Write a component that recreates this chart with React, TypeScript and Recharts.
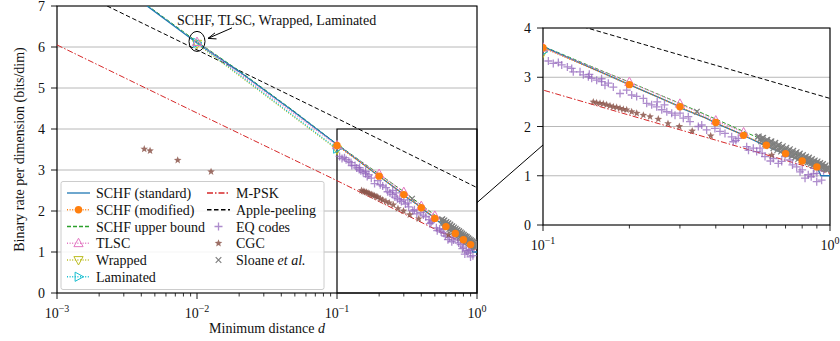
import React from 'react';
import {
  ComposedChart,
  Line,
  Scatter,
  XAxis,
  YAxis,
  CartesianGrid,
  ReferenceArea,
  ReferenceDot,
} from 'recharts';

type Pt = [number, number];

// ticks
const xMajorTicks = [0.001, 0.01, 0.1, 1];
const xMajorExp = ['−3', '−2', '−1', '0'];
const xMinorTicks = [
  0.002, 0.003, 0.004, 0.005, 0.006, 0.007, 0.008, 0.009,
  0.02, 0.03, 0.04, 0.05, 0.06, 0.07, 0.08, 0.09,
  0.2, 0.3, 0.4, 0.5, 0.6, 0.7, 0.8, 0.9,
];
const insetMajorTicks = [0.1, 1];
const insetMinorTicks = [0.2, 0.3, 0.4, 0.5, 0.6, 0.7, 0.8, 0.9];
const yTicksMain = [0, 1, 2, 3, 4, 5, 6, 7];
const yTicksInset = [0, 1, 2, 3, 4];

// series (x = minimum distance d, y = bits/dim)
const schfStandard: Pt[] = [
  [0.0044, 7.0], [0.01, 6.1], [0.02, 5.4], [0.05, 4.4], [0.1, 3.62], [0.2, 2.85],
  [0.29, 2.44], [0.3, 2.38], [0.37, 2.17], [0.4, 2.07], [0.48, 1.87], [0.5, 1.82],
  [0.6, 1.6], [0.7, 1.44], [0.8, 1.3], [0.9, 1.18], [0.93, 1.0], [1.0, 1.0],
];
const schfModified: Pt[] = [
  [0.1, 3.6], [0.2, 2.85], [0.3, 2.4], [0.4, 2.08], [0.5, 1.82],
  [0.6, 1.62], [0.7, 1.45], [0.8, 1.3], [0.9, 1.18],
];
const schfUpper: Pt[] = [
  [0.0044, 7.02], [0.01, 6.13], [0.02, 5.42], [0.05, 4.42], [0.1, 3.63], [0.15, 3.2],
  [0.2, 2.9], [0.3, 2.47], [0.4, 2.15], [0.5, 1.9], [0.6, 1.7], [0.7, 1.53],
  [0.8, 1.38], [0.9, 1.25], [1.0, 1.13],
];
const tlsc: Pt[] = [[0.01, 6.12], [0.1, 3.6], [0.2, 2.9], [0.3, 2.46], [0.4, 2.12], [0.5, 1.88]];
const wrapped: Pt[] = [[0.01, 6.08], [0.1, 3.5]];
const laminated: Pt[] = [[0.01, 6.1], [0.1, 3.52]];
const mpsk: Pt[] = [[0.001, 6.05], [0.01, 4.39], [0.1, 2.74], [0.2, 2.23], [0.5, 1.56], [1.0, 1.05]];
const applePeeling: Pt[] = [[0.00228, 7.0], [0.01, 5.93], [0.1, 4.26], [1.0, 2.57]];
const eqCodes: Pt[] = [
  [0.1044, 3.33], [0.1086, 3.28], [0.1131, 3.3], [0.1162, 3.25], [0.1216, 3.21], [0.1259, 3.18],
  [0.1275, 3.11], [0.1346, 3.11], [0.1382, 3.05], [0.1439, 3.01], [0.145, 3.06], [0.1478, 2.98],
  [0.1538, 2.94], [0.16, 2.91], [0.16, 2.97], [0.1644, 2.84], [0.1689, 2.88], [0.1758, 2.8],
  [0.1855, 2.67], [0.1957, 2.74], [0.2037, 2.64], [0.212, 2.61], [0.2237, 2.57], [0.2298, 2.47],
  [0.2391, 2.44], [0.249, 2.4], [0.25, 2.5], [0.2592, 2.34], [0.265, 2.44], [0.27, 2.3],
  [0.2808, 2.27], [0.2884, 2.23], [0.3002, 2.27], [0.3082, 2.17], [0.3208, 2.2], [0.3252, 2.1],
  [0.3478, 2.0], [0.3573, 2.03], [0.3717, 1.93], [0.3972, 1.96], [0.4138, 1.9], [0.4306, 1.86],
  [0.4544, 1.79], [0.4603, 1.69], [0.47, 1.72], [0.479, 1.76], [0.5125, 1.59], [0.52, 1.52],
  [0.5405, 1.56], [0.5552, 1.49], [0.5703, 1.56], [0.58, 1.46], [0.5937, 1.39], [0.62, 1.3],
  [0.6346, 1.35], [0.6605, 1.25], [0.6787, 1.29], [0.697, 1.39], [0.7255, 1.32], [0.74, 1.22],
  [0.7655, 1.18], [0.7863, 1.08], [0.8, 1.12], [0.8185, 0.95], [0.84, 1.02], [0.86, 0.98],
  [0.875, 1.04], [0.88, 1.15], [0.899, 0.88], [0.9, 1.05], [0.935, 0.91], [0.95, 1.1],
];
const cgc: Pt[] = [
  [0.0042, 3.51], [0.00462, 3.47], [0.00728, 3.24], [0.0126, 2.96],
  [0.1497, 2.5], [0.1538, 2.48], [0.158, 2.47], [0.1622, 2.46], [0.1667, 2.44], [0.1712, 2.42],
  [0.1758, 2.4], [0.1806, 2.39], [0.1855, 2.37], [0.1905, 2.35], [0.1957, 2.34], [0.2037, 2.3],
  [0.2121, 2.27], [0.2237, 2.23], [0.236, 2.2], [0.2522, 2.15], [0.2726, 2.06], [0.2985, 2.0],
  [0.331, 1.91], [0.384, 1.81], [0.6263, 1.42],
];
const sloane: Pt[] = [
  [0.3436, 2.3],
  [0.56, 1.79], [0.57, 1.74], [0.58, 1.76], [0.59, 1.69], [0.6, 1.72], [0.61, 1.66], [0.62, 1.69],
  [0.63, 1.62], [0.64, 1.65], [0.65, 1.58], [0.66, 1.62], [0.67, 1.55], [0.68, 1.58], [0.69, 1.51],
  [0.7, 1.55], [0.71, 1.49], [0.72, 1.52], [0.73, 1.45], [0.74, 1.49], [0.75, 1.42], [0.76, 1.46],
  [0.77, 1.39], [0.78, 1.43], [0.79, 1.36], [0.8, 1.4], [0.81, 1.34], [0.82, 1.37], [0.83, 1.31],
  [0.84, 1.35], [0.85, 1.28], [0.86, 1.32], [0.87, 1.26], [0.88, 1.29], [0.89, 1.23], [0.9, 1.27],
  [0.91, 1.21], [0.92, 1.24], [0.93, 1.19], [0.94, 1.22], [0.95, 1.17], [0.96, 1.19], [0.97, 1.14],
  [0.98, 1.17], [0.99, 1.13],
  [0.575, 1.7], [0.595, 1.64], [0.615, 1.6], [0.635, 1.56], [0.655, 1.52], [0.675, 1.49], [0.695, 1.46],
  [0.715, 1.43], [0.735, 1.4], [0.755, 1.37], [0.775, 1.34], [0.795, 1.32], [0.815, 1.29], [0.835, 1.27],
  [0.855, 1.24], [0.875, 1.22], [0.895, 1.2], [0.915, 1.18], [0.935, 1.16], [0.955, 1.14], [0.975, 1.12],
  [0.565, 1.8], [0.585, 1.77], [0.605, 1.73], [0.625, 1.7], [0.645, 1.67], [0.665, 1.63], [0.685, 1.6],
  [0.705, 1.57], [0.725, 1.54], [0.745, 1.51], [0.765, 1.48], [0.785, 1.45], [0.805, 1.42], [0.825, 1.39],
  [0.845, 1.37], [0.865, 1.34], [0.885, 1.31], [0.905, 1.29], [0.925, 1.26], [0.945, 1.24], [0.965, 1.21],
  [0.985, 1.18],
];

const FONT = '"Liberation Serif", "DejaVu Serif", serif';
const C = {
  blue: '#1f77b4', orange: '#ff7f0e', green: '#2ca02c', red: '#d62728', purple: '#9467bd',
  brown: '#8c564b', pink: '#e377c2', gray: '#7f7f7f', olive: '#bcbd22', cyan: '#17becf',
};

const toPts = (a: Pt[]) => a.map(([x, y]) => ({ x, y }));

type Kind = 'none' | 'circle' | 'triUp' | 'triDown' | 'triRight' | 'plus' | 'star' | 'x';

function Marker({ kind, cx, cy, color }: { kind: Kind; cx: number; cy: number; color: string }) {
  if (cx == null || cy == null || kind === 'none') return <g />;
  switch (kind) {
    case 'circle':
      return <circle cx={cx} cy={cy} r={3.7} fill={color} />;
    case 'triUp':
      return <polygon points={`${cx},${cy - 5} ${cx - 4.6},${cy + 3.4} ${cx + 4.6},${cy + 3.4}`} fill="none" stroke={color} strokeWidth={1} />;
    case 'triDown':
      return <polygon points={`${cx},${cy + 5} ${cx - 4.6},${cy - 3.4} ${cx + 4.6},${cy - 3.4}`} fill="none" stroke={color} strokeWidth={1} />;
    case 'triRight':
      return <polygon points={`${cx + 5},${cy} ${cx - 3.4},${cy - 4.6} ${cx - 3.4},${cy + 4.6}`} fill="none" stroke={color} strokeWidth={1} />;
    case 'plus':
      return <path d={`M${cx - 4},${cy}H${cx + 4}M${cx},${cy - 4}V${cy + 4}`} stroke={color} strokeWidth={1.3} opacity={0.75} />;
    case 'x':
      return <path d={`M${cx - 2.8},${cy - 2.8}L${cx + 2.8},${cy + 2.8}M${cx - 2.8},${cy + 2.8}L${cx + 2.8},${cy - 2.8}`} stroke={color} strokeWidth={1.2} />;
    case 'star': {
      const pts: string[] = [];
      for (let k = 0; k < 10; k++) {
        const r = k % 2 === 0 ? 4 : 1.7;
        const a = -Math.PI / 2 + (k * Math.PI) / 5;
        pts.push(`${cx + r * Math.cos(a)},${cy + r * Math.sin(a)}`);
      }
      return <polygon points={pts.join(' ')} fill={color} opacity={0.85} />;
    }
  }
  return <g />;
}

type LineStyle = { name: string; data: Pt[]; color: string; dash?: string; width: number; marker: Kind };

const lineSeries: LineStyle[] = [
  { name: 'M-PSK', data: mpsk, color: C.red, dash: '6 2 1.5 2', width: 1, marker: 'none' },
  { name: 'Apple-peeling', data: applePeeling, color: '#000', dash: '4.5 2.5', width: 1, marker: 'none' },
  { name: 'SCHF upper bound', data: schfUpper, color: C.green, dash: '4 2', width: 1, marker: 'none' },
  { name: 'SCHF (standard)', data: schfStandard, color: C.blue, width: 1.3, marker: 'none' },
  { name: 'Wrapped', data: wrapped, color: C.olive, dash: '1 1.6', width: 1.3, marker: 'triDown' },
  { name: 'Laminated', data: laminated, color: C.cyan, dash: '1 1.6', width: 1.3, marker: 'triRight' },
  { name: 'TLSC', data: tlsc, color: C.pink, dash: '1 1.6', width: 1.3, marker: 'triUp' },
  { name: 'SCHF (modified)', data: schfModified, color: C.orange, dash: '1 1.6', width: 1.3, marker: 'circle' },
];
const scatterSeries: { name: string; data: Pt[]; color: string; marker: Kind }[] = [
  { name: 'EQ codes', data: eqCodes, color: C.purple, marker: 'plus' },
  { name: 'CGC', data: cgc, color: C.brown, marker: 'star' },
  { name: 'Sloane et al.', data: sloane, color: C.gray, marker: 'x' },
];

function XTick(props: any) {
  const { x, y, payload } = props;
  const i = xMajorTicks.indexOf(payload.value);
  if (i < 0) return <line x1={x} x2={x} y1={y} y2={y + 3.5} stroke="#000" strokeWidth={0.8} />;
  return (
    <g>
      <line x1={x} x2={x} y1={y} y2={y + 6} stroke="#000" strokeWidth={0.9} />
      <text x={x} y={y + 25} textAnchor="middle" fontSize={14} fontFamily={FONT} fill="#111">
        <tspan>10</tspan>
        <tspan dy={-6} fontSize={10}>{xMajorExp[i]}</tspan>
      </text>
    </g>
  );
}

function YTick(props: any) {
  const { x, y, payload } = props;
  return (
    <g>
      <line x1={x - 6} x2={x} y1={y} y2={y} stroke="#000" strokeWidth={0.9} />
      <text x={x - 12} y={y + 5} textAnchor="end" fontSize={14} fontFamily={FONT} fill="#111">
        {payload.value}
      </text>
    </g>
  );
}

const gridAt = (vals: number[]) => (args: any) => {
  const s = args?.xAxis?.scale;
  if (typeof s !== 'function') return [];
  return vals.map((v) => s(v));
};

function renderSeries(prefix: string) {
  const out: React.ReactNode[] = [];
  scatterSeries.forEach((s) =>
    out.push(
      <Scatter
        key={`${prefix}-${s.name}`}
        name={s.name}
        data={toPts(s.data)}
        dataKey="y"
        isAnimationActive={false}
        shape={(p: any) => <Marker kind={s.marker} cx={p.cx} cy={p.cy} color={s.color} />}
      />,
    ),
  );
  lineSeries.forEach((s) =>
    out.push(
      <Line
        key={`${prefix}-${s.name}`}
        name={s.name}
        data={toPts(s.data)}
        dataKey="y"
        type="linear"
        stroke={s.color}
        strokeWidth={s.width}
        strokeDasharray={s.dash}
        activeDot={false}
        isAnimationActive={false}
        dot={
          s.marker === 'none'
            ? false
            : (p: any) => <Marker key={`${prefix}-${s.name}-${p.index}`} kind={s.marker} cx={p.cx} cy={p.cy} color={s.color} />
        }
      />,
    ),
  );
  return out;
}

function Annotation({ cx, cy }: { cx: number; cy: number }) {
  if (cx == null) return <g />;
  const hx = cx + 11;
  const hy = cy - 4.5;
  return (
    <g>
      <ellipse cx={cx} cy={cy - 1.5} rx={8} ry={10} fill="none" stroke="#000" strokeWidth={1} />
      <line x1={cx + 35} y1={cy - 15} x2={hx} y2={hy} stroke="#000" strokeWidth={1} />
      <path d={`M${hx + 7},${hy - 5.5}L${hx},${hy}L${hx + 8.5},${hy + 0.5}`} fill="none" stroke="#000" strokeWidth={1} />
      <text x={cx - 20} y={cy - 18} fontSize={14} fontFamily={FONT} fill="#111">
        SCHF, TLSC, Wrapped, Laminated
      </text>
    </g>
  );
}

const legendLeft: { label: string; color: string; dash?: string; marker: Kind; line: boolean }[] = [
  { label: 'SCHF (standard)', color: C.blue, marker: 'none', line: true },
  { label: 'SCHF (modified)', color: C.orange, dash: '1 1.6', marker: 'circle', line: true },
  { label: 'SCHF upper bound', color: C.green, dash: '4 2', marker: 'none', line: true },
  { label: 'TLSC', color: C.pink, dash: '1 1.6', marker: 'triUp', line: true },
  { label: 'Wrapped', color: C.olive, dash: '1 1.6', marker: 'triDown', line: true },
  { label: 'Laminated', color: C.cyan, dash: '1 1.6', marker: 'triRight', line: true },
];
const legendRight: { label: string; color: string; dash?: string; marker: Kind; line: boolean }[] = [
  { label: 'M-PSK', color: C.red, dash: '6 2 1.5 2', marker: 'none', line: true },
  { label: 'Apple-peeling', color: '#000', dash: '4.5 2.5', marker: 'none', line: true },
  { label: 'EQ codes', color: C.purple, marker: 'plus', line: false },
  { label: 'CGC', color: C.brown, marker: 'star', line: false },
  { label: 'Sloane', color: C.gray, marker: 'x', line: false },
];

function LegendColumn({ items, x0 }: { items: typeof legendLeft; x0: number }) {
  return (
    <g>
      {items.map((it, i) => {
        const y = 193 + i * 16.75;
        return (
          <g key={it.label}>
            {it.line && (
              <line x1={x0} x2={x0 + 23} y1={y} y2={y} stroke={it.color} strokeWidth={1.3} strokeDasharray={it.dash} />
            )}
            <Marker kind={it.marker} cx={x0 + 11.5} cy={y} color={it.color} />
            <text x={x0 + 29} y={y + 5} fontSize={14} fontFamily={FONT} fill="#111">
              {it.label}
              {it.label === 'Sloane' && (
                <>
                  {' '}
                  <tspan fontStyle="italic">et al.</tspan>
                </>
              )}
            </text>
          </g>
        );
      })}
    </g>
  );
}

export default function App() {
  return (
    <div style={{ position: 'absolute', left: 0, top: 0, width: 840, height: 341, background: '#fff', fontFamily: FONT }}>
      <div style={{ position: 'absolute', left: 0, top: 0 }}>
        <ComposedChart width={500} height={341} margin={{ top: 6, right: 23, bottom: 0, left: 0 }} style={{ overflow: 'visible' }}>
          <CartesianGrid horizontal={false} stroke="#d4d4d4" strokeDasharray="1 2" verticalCoordinatesGenerator={gridAt(xMinorTicks)} />
          <CartesianGrid stroke="#b8b8b8" strokeWidth={1} verticalCoordinatesGenerator={gridAt([0.01, 0.1])} />
          <XAxis
            dataKey="x"
            type="number"
            scale="log"
            domain={[0.001, 1]}
            allowDataOverflow
            ticks={[...xMajorTicks, ...xMinorTicks]}
            interval={0}
            tickSize={0}
            tickMargin={0}
            tickLine={false}
            axisLine={false}
            tick={XTick}
            height={48}
            label={(p: any) => {
              const vb = p?.viewBox ?? { x: 57, y: 293, width: 420 };
              return (
                <text x={vb.x + vb.width / 2} y={vb.y + 40} textAnchor="middle" fontSize={14} fontFamily={FONT} fill="#111">
                  Minimum distance <tspan fontStyle="italic">d</tspan>
                </text>
              );
            }}
          />
          <YAxis
            type="number"
            domain={[0, 7]}
            allowDataOverflow
            ticks={yTicksMain}
            interval={0}
            tickSize={0}
            tickMargin={0}
            tickLine={false}
            axisLine={false}
            tick={YTick}
            width={57}
            label={(p: any) => {
              const vb = p?.viewBox ?? { x: 0, y: 6, height: 287 };
              const cx = vb.x + 19;
              const cy = vb.y + vb.height / 2;
              return (
                <text x={cx} y={cy} transform={`rotate(-90 ${cx} ${cy})`} textAnchor="middle" dominantBaseline="central" fontSize={14} fontFamily={FONT} fill="#111">
                  Binary rate per dimension (bits/dim)
                </text>
              );
            }}
          />
          {renderSeries('main')}
          <ReferenceArea x1={0.1} x2={1} y1={0} y2={4} fill="none" fillOpacity={0} stroke="#000" strokeWidth={1.2} ifOverflow="visible" />
          <ReferenceArea x1={0.001} x2={1} y1={0} y2={7} fill="none" fillOpacity={0} stroke="#000" strokeWidth={1.2} ifOverflow="visible" />
          <ReferenceDot x={0.01} y={6.1} r={0} ifOverflow="visible" shape={(p: any) => <Annotation cx={p.cx} cy={p.cy} />} />
        </ComposedChart>
      </div>

      <div style={{ position: 'absolute', left: 480, top: 0 }}>
        <ComposedChart width={360} height={341} margin={{ top: 28, right: 10, bottom: 86, left: 0 }}>
          <CartesianGrid horizontal={false} stroke="#d4d4d4" strokeDasharray="1 2" verticalCoordinatesGenerator={gridAt(insetMinorTicks)} />
          <CartesianGrid vertical={false} stroke="#b8b8b8" strokeWidth={1} />
          <XAxis
            dataKey="x"
            type="number"
            scale="log"
            domain={[0.1, 1]}
            allowDataOverflow
            ticks={[...insetMajorTicks, ...insetMinorTicks]}
            interval={0}
            tickSize={0}
            tickMargin={0}
            tickLine={false}
            axisLine={false}
            tick={XTick}
            height={30}
          />
          <YAxis
            type="number"
            domain={[0, 4]}
            allowDataOverflow
            ticks={yTicksInset}
            interval={0}
            tickSize={0}
            tickMargin={0}
            tickLine={false}
            axisLine={false}
            tick={YTick}
            width={63}
          />
          {renderSeries('inset')}
          <ReferenceArea x1={0.1} x2={1} y1={0} y2={4} fill="none" fillOpacity={0} stroke="#000" strokeWidth={1.2} ifOverflow="visible" />
        </ComposedChart>
      </div>

      <svg width={840} height={341} style={{ position: 'absolute', left: 0, top: 0, pointerEvents: 'none' }}>
        <line x1={477} y1={202.6} x2={543} y2={145} stroke="#000" strokeWidth={1} />
        <rect x={61} y={181.5} width={263} height={108} rx={2} fill="#fff" fillOpacity={0.85} stroke="#cccccc" strokeWidth={1} />
        <LegendColumn items={legendLeft} x0={67} />
        <LegendColumn items={legendRight} x0={207} />
      </svg>
    </div>
  );
}
